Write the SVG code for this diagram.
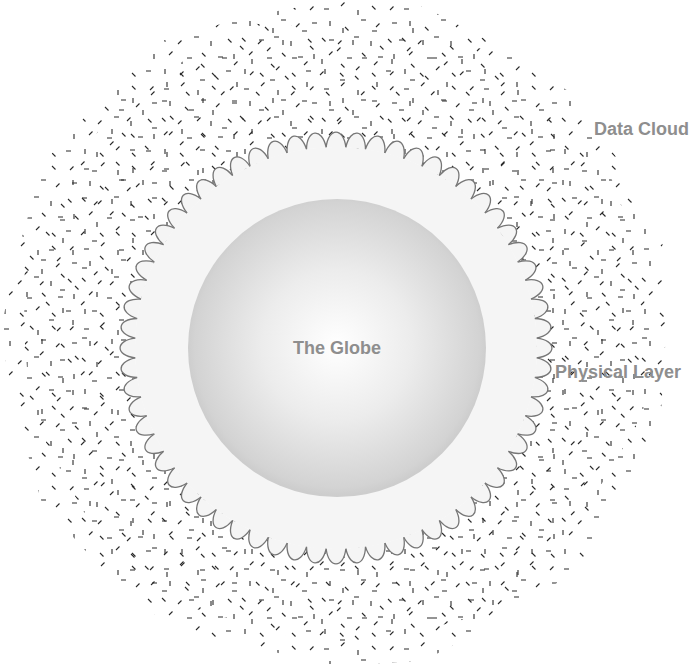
<svg xmlns="http://www.w3.org/2000/svg" xmlns:xlink="http://www.w3.org/1999/xlink" width="691" height="664" viewBox="0 0 691 664">
<style>
.lbl{font-family:"Liberation Sans",Arial,Helvetica,sans-serif;font-weight:bold;font-size:18px;fill:#8e8e8e}
.dash{stroke:#2a2a2a;stroke-width:1.1;fill:none}
.scallop{fill:#f5f5f5;stroke:#767676;stroke-width:1.3}
</style>
<defs>
<pattern id="tile1" patternUnits="userSpaceOnUse" width="70" height="70">
<path class="dash" d="M5,6 l3.5,3.5 M27,12 v5 M40,5 l3.5,-3.5 M60,10 h5 M11,25 l3.5,-3.5 M22,31 h5 M46,22 l3.5,3.5 M63,28 v5 M3,40 v5 M30,46 l3.5,3.5 M49,40 h5 M57,51 l3.5,-3.5 M12,58 h5 M24,65 l3.5,-3.5 M42,59 v5 M61,64 l3.5,3.5"/>
</pattern>
<pattern id="tile2" patternUnits="userSpaceOnUse" width="80" height="80">
<path class="dash" d="M4,9 h5 M21,6 l3.5,-3.5 M38,10 v5 M52,6 l3.5,3.5 M70,10 l3.5,-3.5 M10,21 v5 M25,27 l3.5,3.5 M41,20 h5 M56,27 l3.5,-3.5 M72,23 h5 M2,38 l3.5,3.5 M18,44 l3.5,-3.5 M34,37 h5 M51,41 v5 M68,39 l3.5,3.5 M9,55 l3.5,-3.5 M27,58 h5 M42,53 l3.5,3.5 M58,57 h5 M74,54 v5 M5,69 v5 M20,73 l3.5,3.5 M36,70 l3.5,-3.5 M52,73 l3.5,3.5 M66,71 h5"/>
</pattern>
<radialGradient id="globeGrad" cx="337" cy="345" r="150" gradientUnits="userSpaceOnUse">
<stop offset="0" stop-color="#ffffff"/>
<stop offset="0.5" stop-color="#ececec"/>
<stop offset="0.95" stop-color="#d3d3d3"/>
<stop offset="1" stop-color="#cdcdcd"/>
</radialGradient>
<path id="bump" class="scallop" d="M-9.86,-200.76 C-7.5,-221 7.5,-221 9.86,-200.76"/>
</defs>
<rect width="691" height="664" fill="#ffffff"/>
<g id="data-cloud">
<path fill="url(#tile2)" d="M666,332 L660.6,419 L620,496 L575,571 L502,619.5 L424.1,660.4 L336,666 L251.6,646.9 L167,624.7 L100.6,567.4 L41.6,502 L17.2,417.5 L0,332 L19.2,247 L43.3,163 L102,98 L166.5,38.4 L251.3,16.1 L336,0 L423.3,6.5 L500.5,47.1 L573.6,94.4 L622.6,166.5 L662.5,244.5 Z"/>
<path fill="url(#tile1)" d="M648,332 L643.2,414.3 L601,485 L558.7,554.7 L497,610.9 L416.3,631.5 L336,650 L257,626.6 L179,603.9 L109.8,558.2 L69.3,486 L30.7,413.8 L24,332 L25,248.6 L70.1,178.5 L111.9,107.9 L180.5,62.7 L253.4,23.8 L336,28 L417.6,27.7 L496.5,54 L554.5,113.5 L609.7,174 L638.4,251 Z"/>
</g>
<g id="physical-layer" transform="translate(336,348)">
<circle r="201" fill="#f5f5f5"/>
<use xlink:href="#bump" transform="rotate(0)"/>
<use xlink:href="#bump" transform="rotate(5.625)"/>
<use xlink:href="#bump" transform="rotate(11.25)"/>
<use xlink:href="#bump" transform="rotate(16.875)"/>
<use xlink:href="#bump" transform="rotate(22.5)"/>
<use xlink:href="#bump" transform="rotate(28.125)"/>
<use xlink:href="#bump" transform="rotate(33.75)"/>
<use xlink:href="#bump" transform="rotate(39.375)"/>
<use xlink:href="#bump" transform="rotate(45)"/>
<use xlink:href="#bump" transform="rotate(50.625)"/>
<use xlink:href="#bump" transform="rotate(56.25)"/>
<use xlink:href="#bump" transform="rotate(61.875)"/>
<use xlink:href="#bump" transform="rotate(67.5)"/>
<use xlink:href="#bump" transform="rotate(73.125)"/>
<use xlink:href="#bump" transform="rotate(78.75)"/>
<use xlink:href="#bump" transform="rotate(84.375)"/>
<use xlink:href="#bump" transform="rotate(90)"/>
<use xlink:href="#bump" transform="rotate(95.625)"/>
<use xlink:href="#bump" transform="rotate(101.25)"/>
<use xlink:href="#bump" transform="rotate(106.875)"/>
<use xlink:href="#bump" transform="rotate(112.5)"/>
<use xlink:href="#bump" transform="rotate(118.125)"/>
<use xlink:href="#bump" transform="rotate(123.75)"/>
<use xlink:href="#bump" transform="rotate(129.375)"/>
<use xlink:href="#bump" transform="rotate(135)"/>
<use xlink:href="#bump" transform="rotate(140.625)"/>
<use xlink:href="#bump" transform="rotate(146.25)"/>
<use xlink:href="#bump" transform="rotate(151.875)"/>
<use xlink:href="#bump" transform="rotate(157.5)"/>
<use xlink:href="#bump" transform="rotate(163.125)"/>
<use xlink:href="#bump" transform="rotate(168.75)"/>
<use xlink:href="#bump" transform="rotate(174.375)"/>
<use xlink:href="#bump" transform="rotate(180)"/>
<use xlink:href="#bump" transform="rotate(185.625)"/>
<use xlink:href="#bump" transform="rotate(191.25)"/>
<use xlink:href="#bump" transform="rotate(196.875)"/>
<use xlink:href="#bump" transform="rotate(202.5)"/>
<use xlink:href="#bump" transform="rotate(208.125)"/>
<use xlink:href="#bump" transform="rotate(213.75)"/>
<use xlink:href="#bump" transform="rotate(219.375)"/>
<use xlink:href="#bump" transform="rotate(225)"/>
<use xlink:href="#bump" transform="rotate(230.625)"/>
<use xlink:href="#bump" transform="rotate(236.25)"/>
<use xlink:href="#bump" transform="rotate(241.875)"/>
<use xlink:href="#bump" transform="rotate(247.5)"/>
<use xlink:href="#bump" transform="rotate(253.125)"/>
<use xlink:href="#bump" transform="rotate(258.75)"/>
<use xlink:href="#bump" transform="rotate(264.375)"/>
<use xlink:href="#bump" transform="rotate(270)"/>
<use xlink:href="#bump" transform="rotate(275.625)"/>
<use xlink:href="#bump" transform="rotate(281.25)"/>
<use xlink:href="#bump" transform="rotate(286.875)"/>
<use xlink:href="#bump" transform="rotate(292.5)"/>
<use xlink:href="#bump" transform="rotate(298.125)"/>
<use xlink:href="#bump" transform="rotate(303.75)"/>
<use xlink:href="#bump" transform="rotate(309.375)"/>
<use xlink:href="#bump" transform="rotate(315)"/>
<use xlink:href="#bump" transform="rotate(320.625)"/>
<use xlink:href="#bump" transform="rotate(326.25)"/>
<use xlink:href="#bump" transform="rotate(331.875)"/>
<use xlink:href="#bump" transform="rotate(337.5)"/>
<use xlink:href="#bump" transform="rotate(343.125)"/>
<use xlink:href="#bump" transform="rotate(348.75)"/>
<use xlink:href="#bump" transform="rotate(354.375)"/>
</g>
<g id="globe">
<circle cx="337" cy="348" r="149" fill="url(#globeGrad)"/>
<text class="lbl" x="337" y="354" text-anchor="middle">The Globe</text>
</g>
<g id="labels">
<text class="lbl" x="594" y="134.5">Data Cloud</text>
<text class="lbl" x="555" y="378">Physical Layer</text>
</g>
</svg>
